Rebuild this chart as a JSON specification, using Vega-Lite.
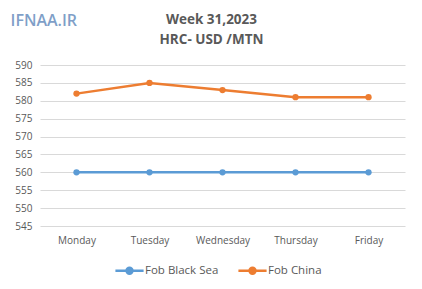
{
  "$schema": "https://vega.github.io/schema/vega-lite/v6.json",
  "width": 365,
  "height": 161,
  "autosize": {"type": "none"},
  "padding": {"left": 40, "top": 65, "right": 17, "bottom": 63},
  "background": "white",
  "title": {
    "text": ["Week 31,2023", "HRC- USD /MTN"],
    "font": "Open Sans",
    "fontSize": 13.5,
    "fontWeight": "bold",
    "color": "#595959",
    "anchor": "middle",
    "dx": -11,
    "offset": -34,
    "lineHeight": 20
  },
  "data": {
    "values": [
      {"day": "Monday", "series": "Fob Black Sea", "value": 560},
      {"day": "Tuesday", "series": "Fob Black Sea", "value": 560},
      {"day": "Wednesday", "series": "Fob Black Sea", "value": 560},
      {"day": "Thursday", "series": "Fob Black Sea", "value": 560},
      {"day": "Friday", "series": "Fob Black Sea", "value": 560},
      {"day": "Monday", "series": "Fob China", "value": 582},
      {"day": "Tuesday", "series": "Fob China", "value": 585},
      {"day": "Wednesday", "series": "Fob China", "value": 583},
      {"day": "Thursday", "series": "Fob China", "value": 581},
      {"day": "Friday", "series": "Fob China", "value": 581}
    ]
  },
  "mark": {"type": "line", "strokeWidth": 2.5, "point": {"size": 40, "filled": true, "opacity": 1}},
  "encoding": {
    "x": {
      "field": "day", "type": "ordinal", "sort": null,
      "scale": {"type": "point", "padding": 0.5},
      "axis": {"title": null, "labelAngle": 0, "domain": false, "ticks": false, "grid": false,
               "labelFont": "Open Sans", "labelFontSize": 10, "labelColor": "#595959", "labelPadding": 9}
    },
    "y": {
      "field": "value", "type": "quantitative",
      "scale": {"domain": [545, 590], "zero": false, "nice": false},
      "axis": {"values": [545,550,555,560,565,570,575,580,585,590], "domain": false, "ticks": false,
               "gridColor": "#d9d9d9", "gridWidth": 1,
               "labelFont": "Open Sans", "labelFontSize": 10, "labelColor": "#595959", "labelPadding": 8,
               "title": "IFNAA.IR", "titleAngle": 0, "titleX": -30, "titleY": -45, "titleAlign": "left", "titleBaseline": "middle",
               "titleFont": "Open Sans", "titleFontSize": 16, "titleFontWeight": 600, "titleColor": "#7f9fc8"}
    },
    "color": {
      "field": "series", "type": "nominal",
      "scale": {"domain": ["Fob Black Sea", "Fob China"], "range": ["#5b9bd5", "#ed7d31"]},
      "legend": {"orient": "none", "legendX": 80, "legendY": 196, "direction": "horizontal", "title": null,
                 "symbolType": "M -1.8 0 L 1.8 0 M -0.38 0 A 0.38 0.38 0 1 0 0.38 0 A 0.38 0.38 0 1 0 -0.38 0",
                 "symbolSize": 245, "symbolStrokeWidth": 2.5, "symbolFillColor": null,
                 "labelFont": "Open Sans", "labelFontSize": 11.5, "labelColor": "#595959", "labelOffset": 6,
                 "columnPadding": 14}
    }
  },
  "config": {"view": {"stroke": null}}
}
